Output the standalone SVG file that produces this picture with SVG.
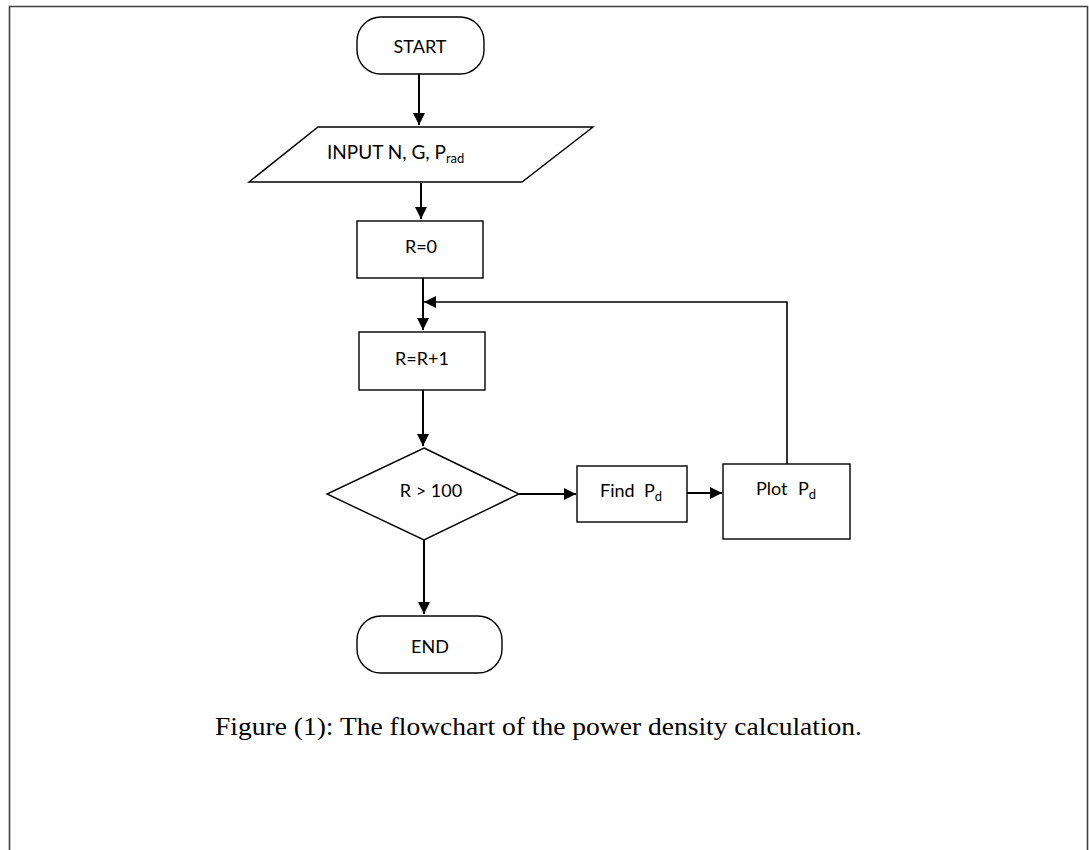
<svg xmlns="http://www.w3.org/2000/svg" width="1089" height="850" viewBox="0 0 1089 850">
<defs>
<marker id="arr" viewBox="0 0 12 12" refX="12" refY="6" markerWidth="12" markerHeight="12" markerUnits="userSpaceOnUse" orient="auto">
<path d="M0,0 L12,6 L0,12 z" fill="#000"/>
</marker>
<style>
.shape{fill:#fff;stroke:#000;stroke-width:1.4}
.lbl{font-family:Lato,"Open Sans","Liberation Sans",sans-serif;font-size:18px;fill:#000}
.sub{font-size:13px}
.con{fill:none;stroke:#000;stroke-width:2}
.cap{font-family:"Liberation Serif","Times New Roman",serif;font-size:26px;fill:#000}
</style>
</defs>
<rect width="1089" height="850" fill="#fff"/>
<path d="M9.5,850 V6.5 H1087.5 V850" fill="none" stroke="#404040" stroke-width="1.6"/>

<g id="connectors">
<line class="con" x1="419" y1="74" x2="419" y2="125" marker-end="url(#arr)"/>
<line class="con" x1="421" y1="183" x2="421" y2="219" marker-end="url(#arr)"/>
<line class="con" x1="423" y1="278" x2="423" y2="330" marker-end="url(#arr)"/>
<line class="con" x1="423" y1="390" x2="423" y2="446" marker-end="url(#arr)"/>
<line class="con" x1="519" y1="494" x2="576" y2="494" marker-end="url(#arr)"/>
<line class="con" x1="687" y1="493" x2="722" y2="493" marker-end="url(#arr)"/>
<polyline class="con" points="787,464 787,302 424,302" marker-end="url(#arr)" style="stroke-width:1.6"/>
<line class="con" x1="424" y1="540" x2="424" y2="614" marker-end="url(#arr)"/>
</g>

<g id="start">
<rect class="shape" x="357" y="17" width="127" height="57" rx="24" ry="24"/>
<text class="lbl" x="420" y="53" text-anchor="middle">START</text>
</g>

<g id="input">
<polygon class="shape" points="318,127 593,127 522,182 249,182"/>
<text class="lbl" x="327" y="159" style="font-size:19px">INPUT N, G, P<tspan class="sub" dy="4">rad</tspan></text>
</g>

<g id="r0">
<rect class="shape" x="357" y="221" width="126" height="57"/>
<text class="lbl" x="421" y="253" text-anchor="middle">R=0</text>
</g>

<g id="rinc">
<rect class="shape" x="359" y="332" width="126" height="58"/>
<text class="lbl" x="422" y="365" text-anchor="middle">R=R+1</text>
</g>

<g id="decision">
<polygon class="shape" points="424,448 519,494 424,540 327,494"/>
<text class="lbl" x="431" y="497" text-anchor="middle">R &gt; 100</text>
</g>

<g id="find">
<rect class="shape" x="577" y="466" width="110" height="56"/>
<text class="lbl" x="600" y="497">Find<tspan x="644">P</tspan><tspan class="sub" dy="4">d</tspan></text>
</g>

<g id="plot">
<rect class="shape" x="723" y="464" width="127" height="75"/>
<text class="lbl" x="756" y="495">Plot<tspan x="798">P</tspan><tspan class="sub" dy="4">d</tspan></text>
</g>

<g id="end">
<rect class="shape" x="357" y="616" width="145" height="57" rx="24" ry="24"/>
<text class="lbl" x="430" y="653" text-anchor="middle">END</text>
</g>

<text class="cap" x="215" y="735" textLength="647" lengthAdjust="spacingAndGlyphs">Figure (1): The flowchart of the power density calculation.</text>
</svg>
